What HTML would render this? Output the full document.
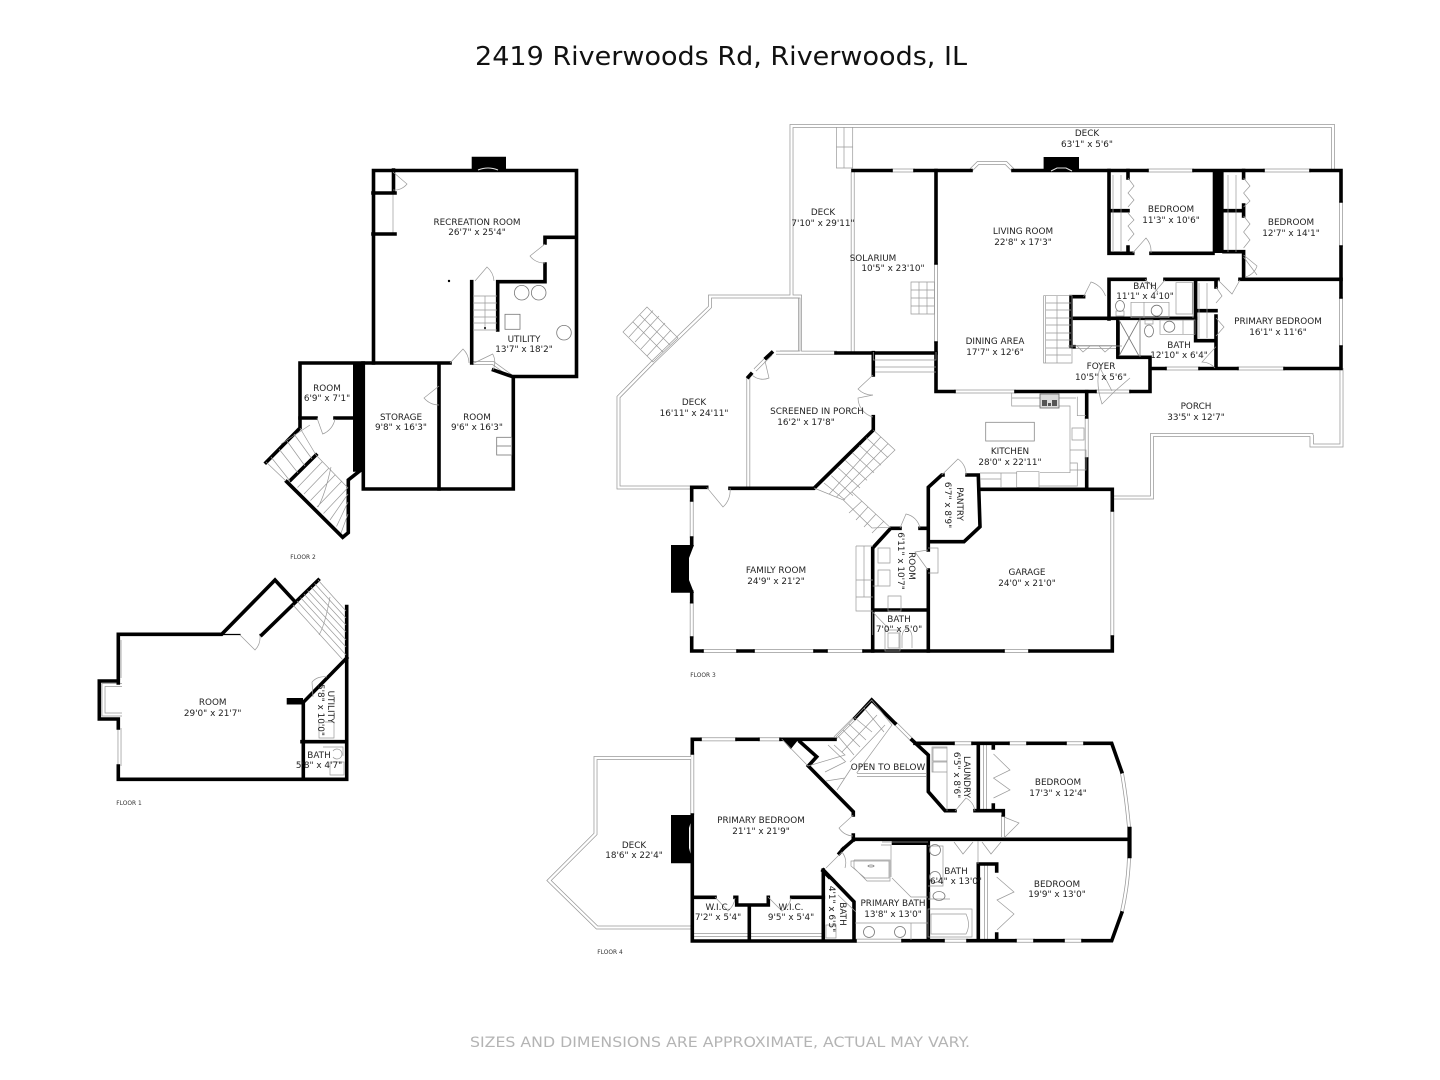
<!DOCTYPE html>
<html><head><meta charset="utf-8"><style>
html,body{margin:0;padding:0;background:#fff}
svg{display:block}
text{font-family:"DejaVu Sans","Liberation Sans",sans-serif;fill:#222;font-size:8.85px;text-anchor:middle}
.w{fill:none;stroke:#000;stroke-width:3.6;stroke-linecap:square;stroke-linejoin:miter}
.w2{fill:none;stroke:#000;stroke-width:2.4;stroke-linecap:square}
.k{fill:#000;stroke:none}
.d{fill:none;stroke:#999;stroke-width:.7}
.s{fill:none;stroke:#999;stroke-width:.7}
.f{fill:none;stroke:#777;stroke-width:.8}
.nt{fill:none;stroke:#e4e4e4;stroke-width:1.1}
.fl{font-size:5.9px;fill:#333}
</style></head><body>
<svg width="1440" height="1080" viewBox="0 0 1440 1080" xmlns="http://www.w3.org/2000/svg">
<rect width="1440" height="1080" fill="#fff"/>
<text x="721" y="65" style="font-size:26px;fill:#111" textLength="492" lengthAdjust="spacingAndGlyphs">2419 Riverwoods Rd, Riverwoods, IL</text>
<text x="720" y="1047" style="font-size:14.5px;fill:#b4b4b4" textLength="500" lengthAdjust="spacingAndGlyphs">SIZES AND DIMENSIONS ARE APPROXIMATE, ACTUAL MAY VARY.</text>

<defs><g id="db">
<!-- decks -->
<path d="M852 126H791.5V296.5H710V307L653 362L618.5 397V487.5H691"/>
<path d="M852 126H1333V172"/>
<path d="M691 758H595.5V834L549 880.5L597 927.5H691"/>
<path d="M1341.5 368V445.5H1311.5V435H1152V497.5H1113"/>
<path d="M792 296.5H800V352"/>
<path d="M1312 435V445.5"/>
<!-- floor 3 windows -->
<path d="M891 170.5H915M1147 170.5H1194M1263 170.5H1311M971 170L978 163H1006L1013 170"/>
<path d="M852.7 172V352M936 263V343M1341 201V247M1341 297V347"/>
<path d="M1165 368.5H1200M1237 368.5H1285M954 391.5H1016M1095 391.5H1131"/>
<path d="M776 352.7H837M748.3 377V487M755 370L771 354M691.7 500V538M691.7 602V638"/>
<path d="M702 651H738M753 651H815M826 651H864M1003 651H1030M1112.3 510V637M1086.7 417V459"/>
<path d="M1072 347H1118"/>
<!-- floor 2 -->
<path d="M472 363H493L511 376"/>
<!-- floor 1 -->
<path d="M119.5 640V678M119.5 728V766M122 685H103.5V714.5H122"/>
<!-- floor 4 -->
<path d="M700 739.3H737M758 739.3H781M692.3 753V815"/>
<path d="M835 738L855 718M895 723L912 740M953 743.3H973M1008 743.3H1028M1065 743.3H1085"/>
<path d="M1121.7 771.7Q1126 795 1129 827M1129 858Q1128 885 1121.7 913"/>
<path d="M855 940.7H903M943 940.7H968M1015 940.7H1035M1063 940.7H1083"/>
<path d="M857 775H926M692 935H749M749 935H824"/>
<path d="M985 743V810M986 864V940"/>
<path d="M1003 815V837"/>
</g></defs>
<use href="#db" stroke="#999" stroke-width="3.8" fill="none"/>
<use href="#db" stroke="#fff" stroke-width="2.3" fill="none"/>

<!-- FLOOR 2 -->
<path class="s" d="M393 193V234"/>
<path class="k" d="M471.7 156.7H506V170H471.7z"/>
<path class="w" d="M373.5 363V170.5H576.5V376.5H512L493.5 370"/>
<path class="w" d="M513.3 377V489H363.3V363H300V428L266 462.5"/>
<path class="w" d="M439 363V489M363 363H450M471.7 363V281.7M497.7 330V281.7H545V264M545 243V237.3H576"/>
<path class="w" d="M373 193H395M373 234H395M393.5 170V193"/>
<path class="k" d="M353 362H361.7V471.7H353z"/>
<path class="w" d="M300 418H316M335 418H353M316 455L290.7 480M286.7 481.7L342.7 537.3L348.3 532.7V480L360 470.7"/>
<path class="d" d="M393 172L407 184A16 16 0 0 1 393 190M545 244L530 256A18 18 0 0 0 545 263M475 281L487 267A20 20 0 0 1 494 281M450 363L463 349A20 20 0 0 1 469 363M474 363L492.7 354A18 18 0 0 1 493 370M439 386L424 398A20 20 0 0 0 439 405M317 418L322.7 434A20 20 0 0 0 335 419"/>
<path class="nt" d="M478 170Q488 166 498 170"/>
<path class="s" d="M473 296H497M473 303H497M473 310H497M473 317H497M473 323H497M473 330H497M485 296V330M316 455L348 488M322.5 461.5L297.5 487.5M329 468L304 494M335.5 474.5L310.5 500.5M342 481L317 507M348 487.5L323.5 513.5M348 494L330 520M348 502L336.5 526.5M348 514L341 533M294 434L312 459M287 441L305 466M279 449L298 473M271 457L290 481M281 444L310 425M300 428L316 455M266 462L286 481M331 467Q325 495 318 507"/>
<circle class="f" cx="521.7" cy="292.7" r="7.3"/><circle class="f" cx="538.7" cy="292.7" r="7.3"/><circle class="f" cx="564" cy="332.7" r="7.3"/>
<rect class="f" x="505" y="314.3" width="15" height="15"/><rect class="f" x="496.7" y="437.3" width="15" height="17.7"/><path class="f" d="M497 446H511"/>
<circle class="k" cx="449" cy="281" r="1.2"/><circle class="k" cx="485" cy="328" r="1"/>
<text x="477" y="225">RECREATION ROOM</text><text x="477" y="235">26'7" x 25'4"</text>
<text x="524" y="342">UTILITY</text><text x="524" y="352">13'7" x 18'2"</text>
<text x="401" y="420">STORAGE</text><text x="401" y="430">9'8" x 16'3"</text>
<text x="477" y="420">ROOM</text><text x="477" y="430">9'6" x 16'3"</text>
<text x="327" y="391">ROOM</text><text x="327" y="401">6'9" x 7'1"</text>
<text class="fl" x="303" y="559">FLOOR 2</text>

<!-- FLOOR 1 -->
<path class="w" d="M118.3 766V779.3H346.7V606.5M118.3 678V634.3H221.7L275 580L295 601.7M261.7 635L318.3 580"/>
<path class="w" d="M118.3 728V719H99.3V681H118.3V683M346.7 658L303.3 702.3V779M302 741.7H346"/>
<path class="w" d="M221 634.5H240M260 634.5H262" style="stroke-width:1.2"/>
<path class="k" d="M286.7 698H303V704.5H286.7z"/>
<path class="d" d="M240 635L255 650A18 18 0 0 0 260 636M312 682A16 16 0 0 1 327 677M312 682L313 697M325 722H334V738H319V722"/>
<path class="s" d="M318 580L346 611M314.5 583.5L346 618M311 587L346 625M307.5 590.5L346 632M304 594L346 640M300.5 597.5L346 647M297 601L346 655M293 605L343 660M330 597Q325 625 319 635M323 747H343V756M333 757A5 5 0 1 0 333 751M330 762H344V775H330z"/>
<text x="212.7" y="705">ROOM</text><text x="212.7" y="716">29'0" x 21'7"</text>
<text transform="rotate(90 331 707)" x="331" y="707" dy="3">UTILITY</text>
<text transform="rotate(90 321 710)" x="321" y="710" dy="3">5'8" x 10'0"</text>
<text x="319" y="758">BATH</text><text x="319" y="768">5'8" x 4'7"</text>
<text class="fl" x="129" y="805">FLOOR 1</text>

<!-- FLOOR 3 walls -->
<path class="k" d="M1043.6 157H1079V170H1043.6z"/>
<path class="w" d="M853 170.5H891M915 170.5H971M1013 170.5H1147M1194 170.5H1263M1311 170.5H1341V201M1341 247V297M1341 347V368.5H1285M1237 368.5H1200M1165 368.5H1151"/>
<path class="w" d="M936 170.5V263M936 343V391.5H954M1016 391.5H1095M1131 391.5H1150V357.3H1118V318.3M1109 319V279.3H1145M1165 279.3H1218M1240 279.3H1341"/>
<path class="w" d="M1071 318.3H1195.6M1071 296.7H1083.6M1071 296.7V346.7M1074 346.7H1071"/>
<path class="w" d="M1109 170.5V253.3H1132.7M1151 253.3H1213M1109 210.7H1128M1128 170.5V178M1128 247V253"/>
<path class="k" d="M1212.7 170H1223.6V253H1212.7z"/>
<path class="w" d="M1224 210.7H1243.6M1224 251.7H1243.6V276M1243.6 170.5V178M1243.6 205V216"/>
<path class="w" d="M1195.6 279.3V340.7H1216M1195.6 310.7H1216M1216 280V287M1216 316V368"/>
<path class="w2" d="M1117.3 318V357"/>
<path class="w" d="M836 353H936M771.7 352.7L766 358M751 374L748.3 377M873.3 352.7V375M873.3 416.7V430L814 488.3H730M706.7 487.3H691.7V500M691.7 538V545M691.7 592V601.7M691.7 638V651H702M738 651H753M815 651H826M864 651H1003M1030 651H1112.3V637M1112.3 510V489.3H980"/>
<path class="k" d="M671 545H694L689 558V580L694 592.7H671z"/>
<path class="w" d="M967 475H978.3L980 526.7L964 541.7H928.3V487.3L941.7 475H943M928.3 541.7V550M928.3 570V651"/>
<path class="w" d="M872.7 651V548L890.7 528.3H900M920 528.3H928M872.7 610H928"/>
<path class="w" d="M1086.7 391.7V417M1086.7 459V489"/>
<path class="nt" d="M1051 171L1057 168H1066L1072 171"/>
<!-- Floor 3 doors / closets -->
<path class="d" d="M706.7 487.3L723 507A22 22 0 0 0 730 488M873 375L858 389A20 20 0 0 0 873 395L858 398A20 20 0 0 0 873 417M765 361L769 378A16 16 0 0 1 752 375"/>
<path class="d" d="M1132.7 253L1146 238A20 20 0 0 1 1151 253M1243.6 257L1257 275M1243.6 255L1257 266A16 16 0 0 1 1245 277M1145 279.3L1158 292M1165 280L1154 293M1218 280L1232 294L1240 280M1216 346.7L1202 362A18 18 0 0 1 1215 368M1083.6 296.7L1091 282A22 22 0 0 1 1105.5 296M1122 346H1068M1077 346L1083 352L1090 346M1099 346L1105 352L1112 346M1112 391L1100 368Q1095 382 1102 404L1115 391L1130 378"/>
<path class="d" d="M1128 178L1134 186L1128 193L1134 200L1128 207M1128 213L1134 220L1128 226L1134 234L1128 241M1243.6 178L1250 186L1243.6 193L1250 201L1243.6 207M1243.6 216L1250 224L1243.6 232L1250 240L1243.6 248M1216 287L1222 296L1216 303M1216 318L1224 327L1216 336"/>
<path class="d" d="M928 550L915 552L928 570M941.7 475L958 459A18 18 0 0 1 966 475M900 528L906 514A18 18 0 0 1 920 528M872.7 612L888 628M872.7 612V635"/>
<path class="s" d="M1113 175V252M1121 175V252M1228 175V252M1236 175V252M1199 283V338M1207 283V338"/>
<!-- Floor 3 stairs -->
<path class="s" d="M836.4 127V168H852.7V127M844 127V168M836.4 147H852.7"/>
<path class="s" d="M780 298H800V351H780M911 282H934.5V314H911zM911 290H934M911 298H934M911 306H934M919 282V314M927 282V314"/>
<path class="s" d="M1043.6 295.7H1072V363H1043.6zM1045.5 296V363M1046 303H1071M1046 310H1071M1046 318H1071M1046 325H1071M1046 333H1071M1046 340H1071M1046 348H1071M1046 355H1071M1057 296V363"/>
<path class="s" d="M873.3 352V360H936V352M875 360H936M875 367H936M875 372H936"/>
<path class="s" d="M653 362L623 332L647 307L678 338ZM653 310.5L629 337M659 316L635 342M665 323L641 349M671 330L647 356M633 322L663 352M640 315L670 345"/>
<path class="s" d="M873.3 430L895 450L843.3 500L814 488M866.3 437.6L888 457.6M859.3 445.2L881 465.2M852.3 452.8L874 472.8M845.3 460.4L867 480.4M838.3 468L860 488M831.3 475.6L853 495.6M824 483L845 500M880.7 437L829 494.4M888 443.6L836.5 497"/>
<path class="s" d="M851.7 491.7L890 527.3L872 528L843.3 500M862 501L849 513M868 507L856 520M876 514L864 527M884 521L872 533"/>
<path class="s" d="M856 546H873M856 546V611H873M856 580H873M856 597H873M864 546V597M878 548H890V563H878zM878 570H890V586H878zM872.7 586H890M888 596H901V611H888z"/>
<path class="s" d="M885 630H900V651H885zM888 633H899V648H888zM912 648V637A5 8 0 0 0 902 637V648"/>
<path class="s" d="M928 548H938V573H928M1011.7 392.7V406H1070V472.7H1040M1039 486H1077.3V463H1070M1077.3 396.7V415.7H1086M1011.7 398H1076M980 473H1017M980 479H1001M1001 473V487M1016.7 471.7H1039V487.3H1016.7zM1070 450H1086V470H1070M1072 428H1084V440H1072z"/>
<rect x="985.7" y="422.3" width="48.6" height="18.7" fill="none" stroke="#888" stroke-width=".8"/>
<rect x="1040" y="394" width="19" height="14" fill="#ddd" stroke="#666" stroke-width=".8"/>
<path d="M1042 400h5v6h-5zM1052 400h5v6h-5zM1048 403h3v3h-3z" fill="#555"/>
<path class="s" d="M1176 282.7H1192.3V314H1176zM1131 302.3H1169V317.7H1131zM1144 302V318M1160 320H1195V334.3H1160zM1183 320V334M1193 282V318"/>
<ellipse class="f" cx="1120" cy="306" rx="4.5" ry="5.5"/><path class="s" d="M1116 311H1124V316H1116z"/>
<circle class="f" cx="1156.7" cy="310.7" r="5.5"/><circle class="f" cx="1169.3" cy="326.7" r="5.5"/>
<ellipse class="f" cx="1149" cy="331" rx="4.5" ry="6"/><path class="s" d="M1145 320H1153V324H1145z"/>
<path class="f" d="M1119 320L1139 356M1139 320L1119 356M1140 318V357"/>
<!-- Floor 3 labels -->
<text x="1087" y="136">DECK</text><text x="1087" y="147">63'1" x 5'6"</text>
<text x="823" y="215">DECK</text><text x="823" y="226">7'10" x 29'11"</text>
<text x="873" y="261">SOLARIUM</text><text x="893" y="271">10'5" x 23'10"</text>
<text x="1023" y="234">LIVING ROOM</text><text x="1023" y="245">22'8" x 17'3"</text>
<text x="995" y="344">DINING AREA</text><text x="995" y="355">17'7" x 12'6"</text>
<text x="1171" y="212">BEDROOM</text><text x="1171" y="223">11'3" x 10'6"</text>
<text x="1291" y="225">BEDROOM</text><text x="1291" y="236">12'7" x 14'1"</text>
<text x="1145" y="289">BATH</text><text x="1145" y="299">11'1" x 4'10"</text>
<text x="1278" y="324">PRIMARY BEDROOM</text><text x="1278" y="335">16'1" x 11'6"</text>
<text x="1179" y="348">BATH</text><text x="1179" y="358">12'10" x 6'4"</text>
<text x="1101" y="369">FOYER</text><text x="1101" y="380">10'5" x 5'6"</text>
<text x="1196" y="409">PORCH</text><text x="1196" y="420">33'5" x 12'7"</text>
<text x="694" y="405">DECK</text><text x="694" y="416">16'11" x 24'11"</text>
<text x="817" y="414">SCREENED IN PORCH</text><text x="806" y="425">16'2" x 17'8"</text>
<text x="1010" y="454">KITCHEN</text><text x="1010" y="465">28'0" x 22'11"</text>
<text transform="rotate(90 960 504)" x="960" y="504" dy="3">PANTRY</text>
<text transform="rotate(90 948 505)" x="948" y="505" dy="3">6'7" x 8'9"</text>
<text x="776" y="573">FAMILY ROOM</text><text x="776" y="584">24'9" x 21'2"</text>
<text transform="rotate(90 912 566)" x="912" y="566" dy="3">ROOM</text>
<text transform="rotate(90 901 561)" x="901" y="561" dy="3">6'11" x 10'7"</text>
<text x="899" y="622">BATH</text><text x="899" y="632">7'0" x 5'0"</text>
<text x="1027" y="575">GARAGE</text><text x="1027" y="586">24'0" x 21'0"</text>
<text class="fl" x="703" y="677">FLOOR 3</text>

<!-- FLOOR 4 walls -->
<path class="k" d="M671 815H693L689 828V848L693 863.3H671z"/>
<path class="k" d="M780.7 737.6H800L790.7 749.3z"/>
<path class="w" d="M692.3 753V739.3H700M737 739.3H758M781 739.3H835M692.3 815V941H855M903 940.7H943M968 940.7H1015M1035 940.7H1063M1083 940.7H1111.7L1121.7 913"/>
<path class="w" d="M855 718L871.7 700L895 723.3M912 740L928.3 755V791.7L945 810.7H955M975 810.7H1003.3V815M915 743.3H953M973 743.3H1008M1028 743.3H1065M1085 743.3H1111.7L1121.7 771.7"/>
<path class="w" d="M800 741.7L816.7 756.7L808.3 766L853.3 811.7V815M853.3 835V840M855 839.3H1128.3M843 849L853.3 840"/>
<path class="k" d="M891.7 838H928V845H891.7z M1127.4 826.7H1131.6V858.3H1127.4z"/>
<path class="w" d="M978.3 743.3V810M993.3 743.3V748M993.3 805V810M928.3 839.3V940M978.3 864V940M978.3 864H996.7V871M996.7 934V940"/>
<path class="w" d="M839.3 853.3L843 849M823.3 870V940M823.3 870L854 901.7V940M823 871L829 877"/>
<path class="w" d="M692.3 897.3H715M735 897.3H736.7V905H768.3V897.3M791.7 897.3H823.3M749.3 905V940"/>
<!-- Floor 4 detail -->
<path class="d" d="M715 897L728 911A20 20 0 0 0 735 898M768 897L782 911A20 20 0 0 0 791 898M853.3 815L839 828A18 18 0 0 0 853 836M826 868L842 852A18 18 0 0 1 845 868M955 811L966 798A18 18 0 0 1 975 811M1004 817L1019 823L1005 837M954 842L963 854L973 842M982 842L991 854L1001 842M978 841V864"/>
<path class="d" d="M993.5 754L1010 770L993.5 778L1010 790L993.5 798M996.7 877L1014 892L997 900L1014 914L997 930M781.7 739L808 766"/>
<path class="s" d="M835 738L871.7 700L892 725L856.7 773M855 718L872 732M849 724L866 740M843 730L860 747M838 736L854 755M828 745L846 762M864 708L884 732M877 715L842 752M885 725L850 762M808 766L845 755L834 745M825 772L845 762M837 790L852 767M826 781L845 778"/>
<path class="s" d="M851 861H889V878H865L851 866z M854 860V868L867 881H890V860H854M892 878L911 897H928M881 845H891V877M882 842H928"/>
<ellipse class="f" cx="871" cy="866" rx="3" ry="1"/>
<path class="s" d="M928 846H943V886H928M928 909H972V937H928zM931 914H966Q971 925 966 934H931zM928 899H950"/>
<circle class="f" cx="935" cy="850" r="5.5"/><circle class="f" cx="935" cy="877" r="5.5"/>
<circle class="f" cx="869" cy="932" r="5.5"/><circle class="f" cx="900" cy="932" r="5.5"/>
<ellipse class="f" cx="939" cy="896" rx="6" ry="4.5"/><path class="s" d="M930 892V900"/>
<path class="s" d="M855 923H928M911 923V940"/>
<path class="s" d="M932 747H947V772H932zM933 748H947V761H933zM933 762H947V772H933zM947 772V811"/>
<path class="s" d="M838 895L856 912M826 925H836V938H826z"/>
<text x="761" y="823">PRIMARY BEDROOM</text><text x="761" y="834">21'1" x 21'9"</text>
<text x="634" y="848">DECK</text><text x="634" y="858">18'6" x 22'4"</text>
<text x="718" y="910">W.I.C.</text><text x="718" y="920">7'2" x 5'4"</text>
<text x="791" y="910">W.I.C.</text><text x="791" y="920">9'5" x 5'4"</text>
<text transform="rotate(90 843 914)" x="843" y="914" dy="3">BATH</text>
<text transform="rotate(90 832 909)" x="832" y="909" dy="3">4'1" x 6'5"</text>
<text x="888" y="770">OPEN TO BELOW</text>
<text transform="rotate(90 967 777)" x="967" y="777" dy="3">LAUNDRY</text>
<text transform="rotate(90 957 775)" x="957" y="775" dy="3">6'5" x 8'6"</text>
<text x="1058" y="785">BEDROOM</text><text x="1058" y="796">17'3" x 12'4"</text>
<text x="1057" y="887">BEDROOM</text><text x="1057" y="897">19'9" x 13'0"</text>
<text x="956" y="874">BATH</text><text x="956" y="884">6'4" x 13'0"</text>
<text x="893" y="906">PRIMARY BATH</text><text x="893" y="917">13'8" x 13'0"</text>
<text class="fl" x="610" y="954">FLOOR 4</text>
</svg>
</body></html>
